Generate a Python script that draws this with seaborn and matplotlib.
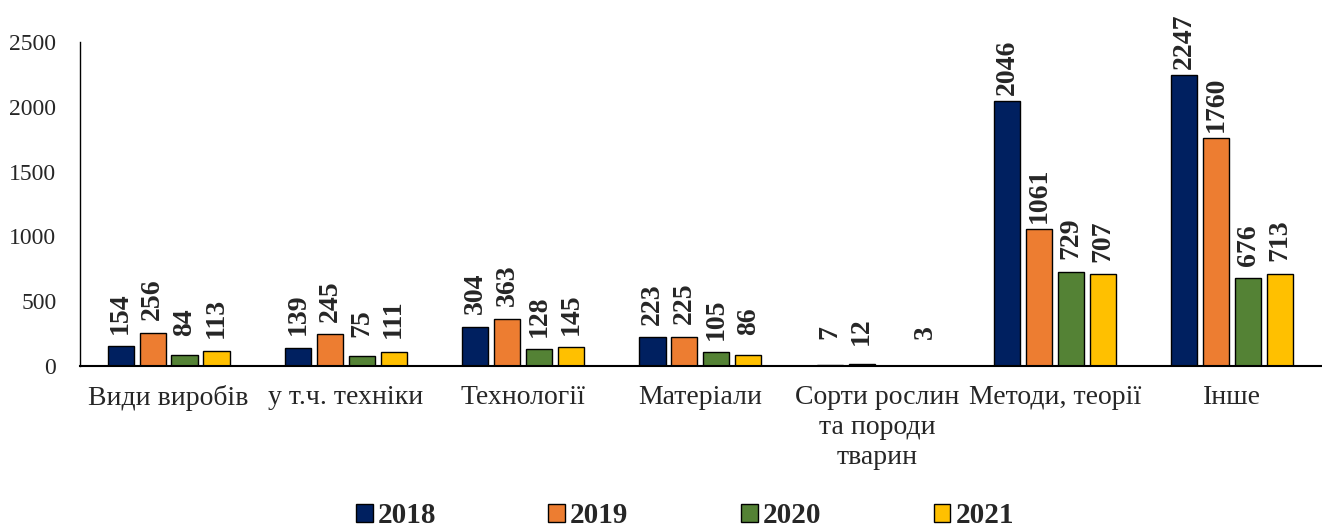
import matplotlib
matplotlib.use("Agg")
import matplotlib.pyplot as plt
import seaborn as sns
import numpy as np
import pandas as pd

# Категорії та значення по роках
categories = ["Види виробів", "у т.ч. техніки", "Технології", "Матеріали",
              "Сорти рослин\nта породи\nтварин", "Методи, теорії", "Інше"]
years = ["2018", "2019", "2020", "2021"]
v2018 = [154, 139, 304, 223, 7, 2046, 2247]
v2019 = [256, 245, 363, 225, 12, 1061, 1760]
v2020 = [84, 75, 128, 105, np.nan, 729, 676]
v2021 = [113, 111, 145, 86, 3, 707, 713]
colors = ["#002060", "#ED7D31", "#548235", "#FFC000"]

df = pd.DataFrame({
    "Категорія": categories * 4,
    "Рік": [y for y in years for _ in categories],
    "Значення": v2018 + v2019 + v2020 + v2021,
})

sns.set_style("white")
plt.rcParams["font.family"] = ["Liberation Serif", "DejaVu Serif"]

fig, ax = plt.subplots(figsize=(13.22, 5.27), dpi=100)
fig.subplots_adjust(left=0.0605, right=0.999, top=0.92, bottom=0.3055)

sns.barplot(data=df, x="Категорія", y="Значення", hue="Рік", palette=colors,
            saturation=1, width=0.72, gap=0.18, edgecolor="black",
            linewidth=1.0, ax=ax)

# Підписи значень над стовпцями (порожні стовпці пропускаємо)
for cont in ax.containers:
    for bar in cont.patches:
        if bar is None or np.isnan(bar.get_height()):
            continue
        h = bar.get_height()
        ax.annotate(f"{int(round(h))}", (bar.get_x() + bar.get_width() / 2, h),
                    xytext=(0, 24), textcoords="offset points",
                    ha="center", va="center", rotation=90,
                    fontsize=20, fontweight="bold")

ax.set_ylim(0, 2500)
ax.set_yticks(range(0, 2501, 500))
ax.set_xlabel("")
ax.set_ylabel("")
ax.tick_params(axis="both", length=0)
ax.tick_params(axis="x", pad=14, labelsize=20)
ax.tick_params(axis="y", pad=17, labelsize=17)
for lbl in ax.get_xticklabels():
    lbl.set_linespacing(1.25)
for s in ["top", "right"]:
    ax.spines[s].set_visible(False)
ax.spines["left"].set_color("black")
ax.spines["left"].set_linewidth(1.0)
ax.spines["bottom"].set_color("black")
ax.spines["bottom"].set_linewidth(1.5)

handles, lbls = ax.get_legend_handles_labels()
ax.legend_.remove()
fig.legend(handles, lbls, loc="lower center", bbox_to_anchor=(0.518, -0.054),
           ncol=4, frameon=False, handlelength=0.58, handleheight=0.58,
           handletextpad=0.17, columnspacing=3.85,
           prop={"size": 21, "weight": "bold"})

plt.savefig("out.png", dpi=100)
plt.close()
